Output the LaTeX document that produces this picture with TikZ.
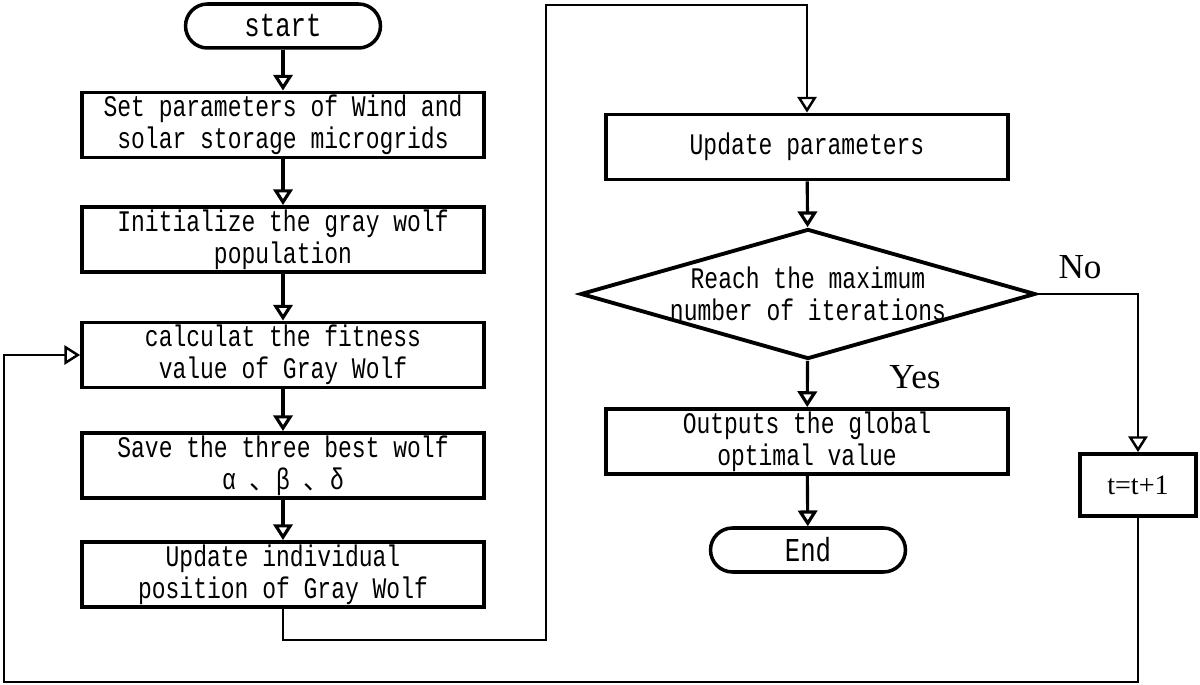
\documentclass[tikz,border=0pt]{standalone}
\usepackage{fontspec}
\setmainfont{Liberation Serif}
\newfontfamily\flowfont{Liberation Mono}[FakeStretch=0.77]
\newfontfamily\cjkfont{Noto Sans CJK SC}
\usetikzlibrary{arrows.meta,shapes.geometric}

\tikzset{
  flowtext/.style={font=\flowfont\fontsize{17}{18}\selectfont, align=center},
  procbox/.style={draw, line width=2.2pt, minimum width=8.04cm, minimum height=1.3cm, inner sep=0pt, flowtext},
  termbox/.style={draw, line width=2pt, rounded corners=0.44cm, minimum width=3.9cm, minimum height=0.88cm, inner sep=0pt,
    font=\flowfont\fontsize{19}{20}\selectfont},
  decbox/.style={draw, diamond, line width=2.2pt, minimum width=9.1cm, minimum height=2.6cm, inner sep=0pt},
  opentip/.style={-{Triangle[open, width=11pt, length=9pt]}},
  flowarrow/.style={line width=1.8pt, opentip},
  backline/.style={line width=1.4pt},
}

\begin{document}
\begin{tikzpicture}[x=0.02cm, y=-0.02cm]
   \useasboundingbox (0,0) rectangle (1200,685);

   % left column
   \node[termbox] (start) at (283,26) {start};
   \node[procbox] (setpar) at (283,125) {Set parameters of Wind and\\solar storage microgrids};
   \node[procbox] (init) at (283,239.5) {Initialize the gray wolf\\population};
   \node[procbox] (fitness) at (283,355) {calculat the fitness\\value of Gray Wolf};
   \node[procbox] (best) at (283,465.5) {Save the three best wolf\\α {\cjkfont\fontsize{15}{16}\selectfont 、}β {\cjkfont\fontsize{15}{16}\selectfont 、}δ};
   \node[procbox] (move) at (283,574.5) {Update individual\\position of Gray Wolf};

   % right column
   \node[procbox] (params) at (807,147) {Update parameters};
   \node[decbox] (check) at (808,294) {};
   \node[flowtext] (checktext) at (check) {Reach the maximum\\number of iterations};
   \node[procbox] (output) at (807,441.5) {Outputs the global\\optimal value};
   \node[termbox] (finish) at (808,550) {End};
   \node[draw, line width=2.2pt, minimum width=2.32cm, minimum height=1.24cm,
         font=\fontsize{16}{18}\selectfont] (incr) at (1138,485) {t=t+1};

   \node[font=\fontsize{20}{22}\selectfont] (nolabel) at (1080,267) {No};
   \node[font=\fontsize{20}{22}\selectfont] (yeslabel) at (915,377) {Yes};

   \coordinate (turnA) at (546,640);
   \coordinate (turnB) at (546,5);
   \coordinate (turnC) at (4,682);

   \draw[flowarrow] (start) -- (setpar);
   \draw[flowarrow] (setpar) -- (init);
   \draw[flowarrow] (init) -- (fitness);
   \draw[flowarrow] (fitness) -- (best);
   \draw[flowarrow] (best) -- (move);
   \draw[flowarrow] (params) -- (check);
   \draw[flowarrow] (check) -- (output);
   \draw[flowarrow] (output) -- (finish);

   \draw[backline, opentip]
   (move.south) |- (turnA) -- (turnB) -| (params.north);
   \draw[backline, opentip] (check.east) -| (incr.north);
   \draw[backline, opentip]
   (incr.south) |- (turnC) |- (fitness.west);

 \end{tikzpicture}
\end{document}
